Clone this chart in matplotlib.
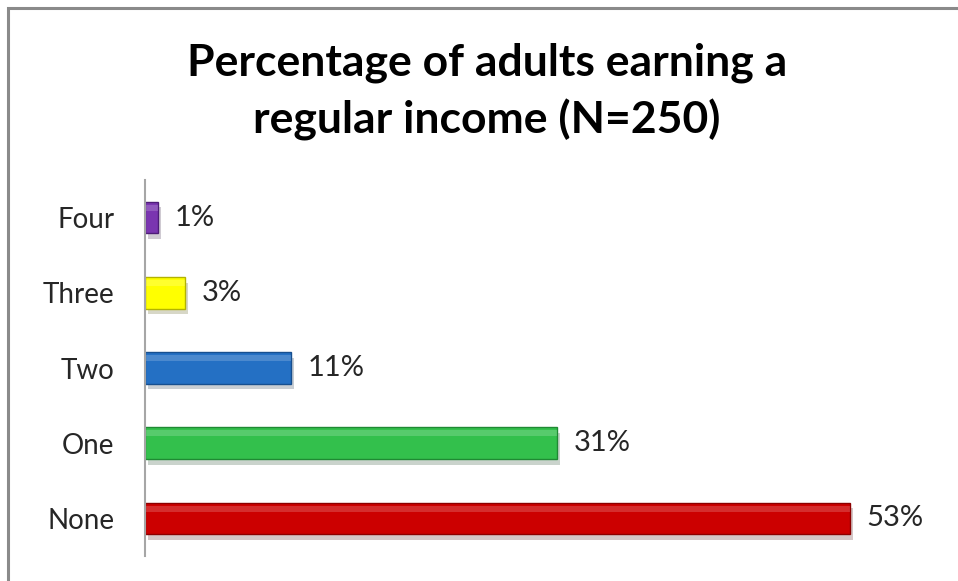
import matplotlib.pyplot as plt
import matplotlib.patheffects as pe
from matplotlib.patches import Rectangle

# data
categories = ["None", "One", "Two", "Three", "Four"]
values = [53, 31, 11, 3, 1]
colors = ["#cc0000", "#33c04c", "#2470c4", "#ffff00", "#7a35b0"]
edges = ["#8c0000", "#1f8a33", "#174f8f", "#b3b300", "#4e1c78"]

plt.rcParams['font.family'] = ['Lato', 'DejaVu Sans']

fig = plt.figure(figsize=(9.58, 5.81), dpi=100)
ax = fig.add_axes([0.1514, 0.043, 0.833, 0.647])

# outer chart border (only top/left visible in the crop)
fig.patches.append(Rectangle((8 / 958, -0.1), 1.2, 1 - 8 / 581 + 0.1,
                             transform=fig.transFigure, fill=False,
                             edgecolor="#8a8a8a", linewidth=2.2))

y = list(range(len(categories)))
bars = ax.barh(y, values, height=0.42, color=colors, edgecolor=edges, linewidth=1.0)
for b in bars:
    b.set_path_effects([pe.SimplePatchShadow(offset=(2, -4), alpha=0.22), pe.Normal()])

# highlight strip along the top of each bar for the bevel look
ax.barh([i + 0.13 for i in y], values, height=0.08, color="white", alpha=0.18, linewidth=0)

for i, v in enumerate(values):
    ax.annotate(f"{v}%", (v, i), xytext=(12, 0), textcoords="offset points",
                va="center", ha="left", fontsize=21, color="#262626")

ax.set_xlim(0, 60)
ax.set_ylim(-0.5, 4.5)
ax.set_yticks(y)
ax.set_yticklabels(categories, fontsize=20, color="#262626")
ax.tick_params(axis="y", length=0, pad=22)
ax.set_xticks([])
for s in ["top", "right", "bottom"]:
    ax.spines[s].set_visible(False)
ax.spines["left"].set_color("#a6a6a6")
ax.spines["left"].set_linewidth(1.5)

fig.text(0.508, 0.842, "Percentage of adults earning a\nregular income (N=250)",
         ha="center", va="center", fontsize=32, fontweight="bold",
         linespacing=1.45, color="black")

fig.savefig("out.png", dpi=100)
